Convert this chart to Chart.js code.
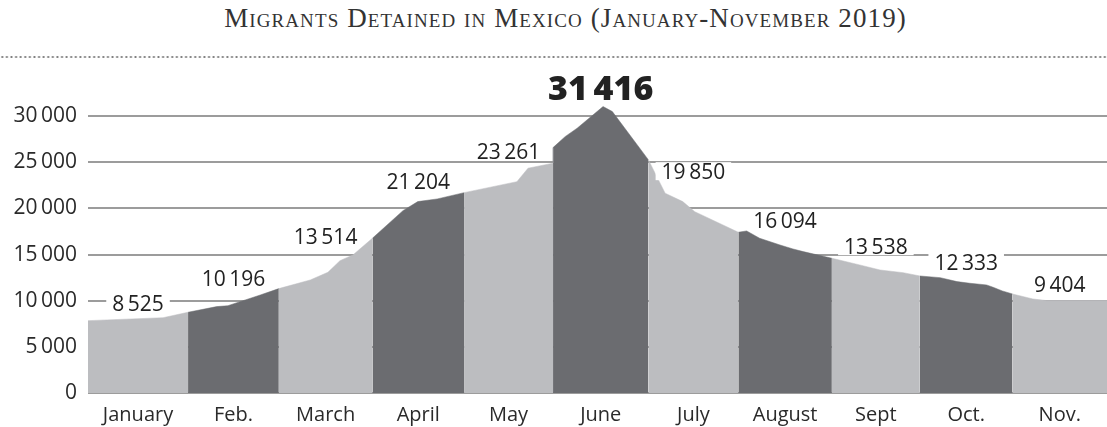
<!DOCTYPE html>
<html>
<head>
<meta charset="utf-8">
<script src="https://cdn.jsdelivr.net/npm/chart.js@4"></script>
<style>
  html, body { margin: 0; padding: 0; background: #fff; }
  #wrap { position: relative; width: 1107px; height: 427px; }
  #title {
    position: absolute; top: 3px; left: 12px; width: 1107px;
    text-align: center; color: #333;
    font-family: "Liberation Serif", "DejaVu Serif", serif;
    font-size: 27px; font-variant: small-caps; letter-spacing: 1.1px;
  }
  #dots {
    position: absolute; top: 56px; left: 0; width: 1107px; height: 2px;
    background: radial-gradient(circle, #7e7e7e 0.9px, transparent 1.2px) 0 0 / 4.6px 2px repeat-x;
  }
  #chartBox { position: absolute; top: 0; left: 0; width: 1107px; height: 427px; }
</style>
</head>
<body>
<div id="wrap">
  <div id="title">Migrants Detained in Mexico (January-November 2019)</div>
  <div id="dots"></div>
  <div id="chartBox"><canvas id="chart"></canvas></div>
</div>
<script>
// month names shown under the bands
const months = ['January', 'Feb.', 'March', 'April', 'May', 'June', 'July', 'August', 'Sept', 'Oct.', 'Nov.'];
// monthly totals written above the curve
const totals = [8525, 10196, 13514, 21204, 23261, 31416, 19850, 16094, 13538, 12333, 9404];
// where each month band starts/ends along the x axis (in month units)
const bounds = [0, 1.08, 2.06, 3.07, 4.06, 5.02, 6.05, 7.02, 8.03, 8.98, 9.98, 11];
// outline of the area: [position, detainees]
const curve = [
  [0, 7840], [0.81, 8160], [1.08, 8750],
  [1.39, 9360], [1.51, 9460], [1.86, 10620], [2.06, 11310],
  [2.40, 12250], [2.59, 13080], [2.72, 14340], [2.86, 14960], [3.07, 16770],
  [3.40, 19760], [3.56, 20740], [3.77, 21030], [4.06, 21710],
  [4.63, 22900], [4.75, 24360], [5.02, 24900],
  [5.02, 26590], [5.15, 27780], [5.28, 28690], [5.56, 31040], [5.66, 30500], [6.05, 25260],
  [6.23, 21650], [6.42, 20740], [6.55, 19650], [7.02, 17420],
  [7.11, 17560], [7.25, 16770], [7.47, 16040], [7.61, 15610], [7.72, 15320], [8.03, 14600],
  [8.33, 13880], [8.55, 13330], [8.80, 13040], [8.98, 12680],
  [9.20, 12500], [9.38, 12070], [9.52, 11890], [9.70, 11710], [9.77, 11460], [9.87, 11060], [9.98, 10730],
  [10.20, 10190], [10.35, 10010], [11, 10010]
];
const yTicks = [0, 5000, 10000, 15000, 20000, 25000, 30000];

const lightGray = '#bcbdc0';
const darkGray = '#6b6c70';

function fmt(n) {
  return String(n).replace(/\B(?=(\d{3})+(?!\d))/g, '\u2006');
}

// height of the outline at a given x position (only used to place the labels)
function curveAt(xv) {
  for (let i = 0; i < curve.length - 1; i++) {
    const [x0, y0] = curve[i], [x1, y1] = curve[i + 1];
    if (xv >= x0 && xv <= x1) {
      if (x1 === x0) return Math.max(y0, y1);
      return y0 + (y1 - y0) * (xv - x0) / (x1 - x0);
    }
  }
  return curve[curve.length - 1][1];
}

// one filled dataset per month so the bands alternate colour
const datasets = months.map((m, i) => ({
  label: m,
  data: curve.filter(p => p[0] >= bounds[i] && p[0] <= bounds[i + 1]).map(p => ({ x: p[0], y: p[1] })),
  backgroundColor: i % 2 === 0 ? lightGray : darkGray,
  borderColor: i % 2 === 0 ? lightGray : darkGray,
  borderWidth: 0.5,
  pointRadius: 0,
  tension: 0,
  fill: 'origin'
}));

const totalsPlugin = {
  id: 'monthTotals',
  afterDraw(chart) {
    const ctx = chart.ctx;
    const x = chart.scales.x, y = chart.scales.y;
    const peak = Math.max(...totals);
    ctx.save();
    totals.forEach((t, i) => {
      const bold = t === peak;
      ctx.font = bold ? '800 34px "Open Sans"' : '400 21px "Open Sans"';
      const txt = fmt(t);
      const w = ctx.measureText(txt).width;
      const cx = x.getPixelForValue((bounds[i] + bounds[i + 1]) / 2);
      const left = x.getValueForPixel(cx - w / 2);
      const right = x.getValueForPixel(cx + w / 2);
      const inside = curve.filter(p => p[0] > left && p[0] < right).map(p => p[1]);
      const top = Math.max(curveAt(left), curveAt(right), ...inside);
      const base = y.getPixelForValue(top) - 7;
      const cap = bold ? 24 : 15;
      ctx.fillStyle = '#fff';
      ctx.fillRect(cx - w / 2 - 6, base - cap - 2, w + 12, cap + 3);
      ctx.fillStyle = '#222';
      ctx.textAlign = 'center';
      ctx.textBaseline = 'alphabetic';
      ctx.fillText(txt, cx, base);
    });
    ctx.restore();
  }
};

new Chart(document.getElementById('chart'), {
  type: 'line',
  data: { datasets },
  plugins: [totalsPlugin],
  options: {
    responsive: true,
    maintainAspectRatio: false,
    animation: false,
    layout: { padding: { top: 70, left: 0, right: 0, bottom: 0 } },
    plugins: {
      legend: { display: false },
      tooltip: { enabled: false },
      title: { display: false }
    },
    scales: {
      x: {
        type: 'linear',
        min: 0,
        max: 11,
        grid: { display: false },
        border: { display: false },
        afterBuildTicks: scale => {
          scale.ticks = months.map((m, i) => ({ value: (bounds[i] + bounds[i + 1]) / 2 }));
        },
        afterFit: scale => { scale.height = 34; },
        ticks: {
          autoSkip: false,
          maxRotation: 0,
          padding: 2,
          color: '#2a2a2a',
          font: { family: 'Open Sans', size: 20, weight: 400 },
          callback: (v, i) => months[i]
        }
      },
      y: {
        min: 0,
        max: 35000,
        z: 1,
        border: { display: false },
        grid: { color: '#9c9c9c', lineWidth: 2, drawTicks: false },
        afterBuildTicks: scale => {
          scale.ticks = yTicks.map(v => ({ value: v }));
        },
        afterFit: scale => { scale.width = 88; },
        ticks: {
          padding: 11,
          color: '#2a2a2a',
          font: { family: 'Open Sans', size: 21, weight: 400 },
          callback: v => fmt(v)
        }
      }
    }
  }
});
</script>
</body>
</html>
